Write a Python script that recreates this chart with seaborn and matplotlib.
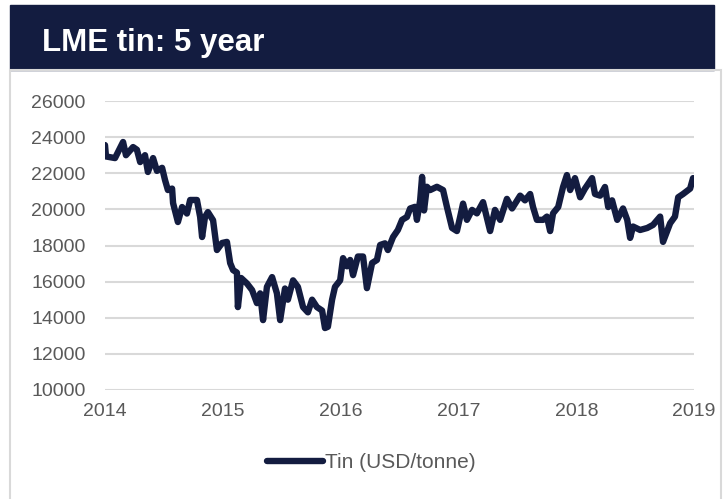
import numpy as np
import pandas as pd
import seaborn as sns
import matplotlib.dates as mdates
from matplotlib import pyplot as plt
from matplotlib.patches import Rectangle

# データ (2014-01-01からの日数, USD/tonne)
days = [0, 3, 31, 56, 65, 87, 99, 109, 124, 133, 149, 161, 177, 186, 195, 208,
        211, 226, 239, 254, 264, 285, 295, 301, 310, 319, 335, 347, 363, 378,
        388, 397, 409, 412, 422, 440, 456, 471, 481, 490, 502, 518, 533, 543,
        558, 567, 583, 598, 614, 629, 642, 657, 673, 682, 691, 704, 713, 729,
        738, 750, 760, 769, 784, 800, 812, 828, 843, 853, 868, 877, 893, 908,
        921, 936, 946, 961, 967, 977, 983, 989, 998, 1008, 1029, 1048, 1060,
        1076, 1091, 1101, 1110, 1122, 1138, 1153, 1172, 1194, 1209, 1225, 1246,
        1262, 1287, 1302, 1318, 1327, 1339, 1358, 1370, 1380, 1389, 1405, 1420,
        1432, 1442, 1457, 1473, 1488, 1510, 1519, 1535, 1550, 1560, 1572, 1588,
        1606, 1619, 1628, 1637, 1659, 1681, 1699, 1721, 1730, 1752, 1767, 1777,
        1792, 1814, 1823]
tin = [23560, 22930, 22840, 23730, 23000, 23450, 23300, 22620, 23000, 22070,
       22840, 22130, 22300, 21630, 21070, 21150, 20350, 19300, 20130, 19770,
       20520, 20520, 19580, 18470, 19580, 19850, 19400, 17750, 18140, 18200,
       17030, 16640, 16500, 14590, 16200, 15900, 15530, 14810, 15350, 13870,
       15710, 16250, 15350, 13870, 15620, 15000, 16070, 15710, 14590, 14300,
       15000, 14590, 14400, 13430, 13500, 15000, 15710, 16070, 17300, 16850,
       17200, 16360, 17390, 17390, 15640, 17030, 17200, 18030, 18120, 17750,
       18470, 18860, 19420, 19580, 20050, 20140, 19420, 20500, 21800, 19940,
       21250, 21070, 21250, 21070, 20140, 18970, 18800, 19580, 20320, 19420,
       19970, 19780, 20400, 18800, 19970, 19420, 20580, 20050, 20760, 20500,
       20850, 20130, 19420, 19420, 19600, 18800, 19780, 20130, 21240, 21900,
       21070, 21730, 20670, 21150, 21730, 20850, 20760, 21240, 20130, 20500,
       19420, 20050, 19420, 18420, 19050, 18860, 18970, 19140, 19600, 18200,
       19230, 19600, 20670, 20850, 21150, 21730]
years = [2014, 2015, 2016, 2017, 2018, 2019]
yticks = list(range(10000, 26001, 2000))

df = pd.DataFrame({
    "date": pd.Timestamp("2014-01-01") + pd.to_timedelta(days, unit="D"),
    "Tin (USD/tonne)": tin,
})

navy = "#131c40"
grey = "#595959"

sns.set_style("white")
plt.rcParams["font.family"] = ["Liberation Sans", "DejaVu Sans"]

fig = plt.figure(figsize=(7.25, 4.99), dpi=100)

# タイトル帯と枠
fig.patches.append(Rectangle((10 / 725, 1 - 70 / 499), 704 / 725, 65 / 499,
                             transform=fig.transFigure, color=navy, zorder=0))
fig.patches.append(Rectangle((10 / 725, -0.01), 711 / 725, 1 - 70 / 499 + 0.01,
                             transform=fig.transFigure, fill=False,
                             edgecolor="#d9d9d9", linewidth=1.5, zorder=0))
fig.text(42 / 725, 1 - 51 / 499, "LME tin: 5 year", color="white",
         fontsize=22.5, fontweight="bold", va="baseline", ha="left")

ax = fig.add_axes([105 / 725, 1 - 390 / 499, 589 / 725, 289 / 499])
sns.lineplot(data=df, x="date", y="Tin (USD/tonne)", color=navy, linewidth=4.6,
             ax=ax, label="Tin (USD/tonne)")
ax.lines[0].set_solid_joinstyle("round")
ax.lines[0].set_solid_capstyle("round")

ax.set_ylim(10000, 26000)
ax.set_yticks(yticks)
ax.set_xlim(pd.Timestamp("2014-01-01"), pd.Timestamp("2019-01-01"))
ax.set_xticks([pd.Timestamp(f"{y}-01-01") for y in years])
ax.xaxis.set_major_formatter(mdates.DateFormatter("%Y"))
ax.grid(True, axis="y", color="#d9d9d9", linewidth=1.5)
ax.set_axisbelow(True)
for s in ax.spines.values():
    s.set_visible(False)
ax.tick_params(axis="both", length=0, labelsize=14, labelcolor=grey)
ax.tick_params(axis="y", pad=14)
ax.tick_params(axis="x", pad=9)
ax.set_xlabel("")
ax.set_ylabel("")

ax.legend(loc="center", bbox_to_anchor=(371 / 725, 1 - 463 / 499),
          bbox_transform=fig.transFigure, frameon=False, fontsize=15,
          labelcolor=grey, handlelength=2.7, handletextpad=0.1)

plt.savefig("out.png", dpi=100)
